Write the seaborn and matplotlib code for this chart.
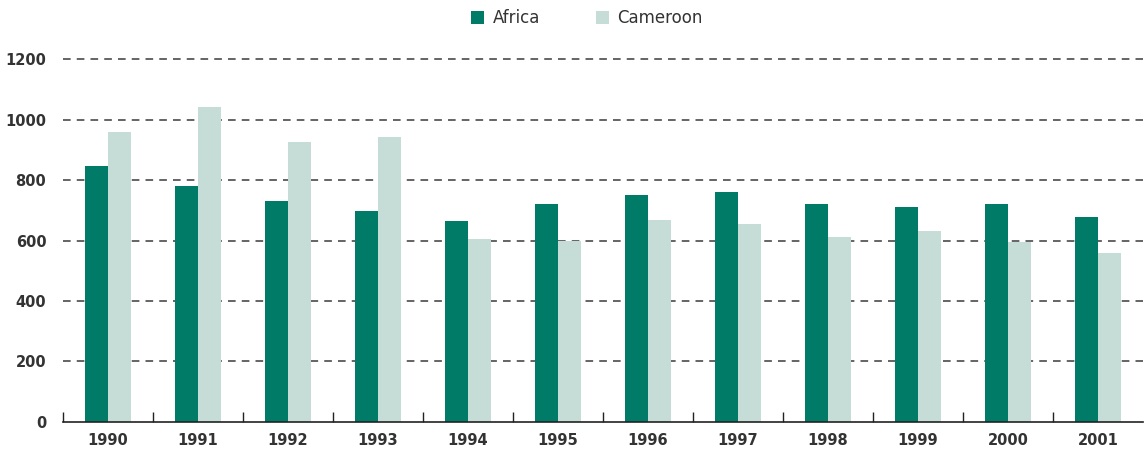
import matplotlib

matplotlib.use("Agg")

import matplotlib.pyplot as plt
import pandas as pd
import seaborn as sns

years = ["1990", "1991", "1992", "1993", "1994", "1995",
         "1996", "1997", "1998", "1999", "2000", "2001"]
africa = [846, 780, 731, 697, 664, 721, 750, 760, 721, 711, 721, 678]
cameroon = [959, 1041, 926, 942, 605, 598, 668, 655, 612, 631, 595, 559]
series_names = ["Africa", "Cameroon"]
colors = ["#007b67", "#c5ddd6"]

df = pd.DataFrame({
    "year": years * 2,
    "value": africa + cameroon,
    "series": [series_names[0]] * len(years) + [series_names[1]] * len(years),
})

sns.set_style("white")
plt.rcParams["font.family"] = ["DejaVu Sans"]

fig = plt.figure(figsize=(11.44, 4.54), dpi=100)
ax = fig.add_axes([0.055, 0.0705, 0.944, 0.7995])

sns.barplot(
    data=df, x="year", y="value", hue="series",
    palette=colors, width=0.51, gap=0, saturation=1,
    linewidth=0, ax=ax, legend=True,
)

ax.set_ylim(0, 1200)
ax.set_xlim(-0.5, len(years) - 0.5)
ax.set_yticks(range(0, 1201, 200))
ax.set_xlabel("")
ax.set_ylabel("")

for y in range(200, 1201, 200):
    ax.axhline(y, color="#3a3a3a", lw=1.1, ls=(0, (5, 4)), zorder=0, clip_on=False)

for s in ["top", "right", "left"]:
    ax.spines[s].set_visible(False)
ax.spines["bottom"].set_color("#222222")
ax.spines["bottom"].set_linewidth(1.2)

# small ticks between year groups
ax.set_xticks([i - 0.5 for i in range(len(years))], minor=True)
ax.tick_params(axis="x", which="minor", bottom=True, direction="in",
               length=7, color="#222222", width=1)
ax.tick_params(axis="x", which="major", length=0, pad=8)
ax.tick_params(axis="y", length=0, pad=12)
for lab in ax.get_xticklabels() + ax.get_yticklabels():
    lab.set_fontweight("bold")
    lab.set_fontsize(10.5)
    lab.set_color("#333333")

handles, labels = ax.get_legend_handles_labels()
ax.legend(
    handles, labels, loc="center", bbox_to_anchor=(0.485, 1.113), ncol=2,
    frameon=False, fontsize=12, handlelength=0.8, handleheight=0.8,
    columnspacing=3.35, handletextpad=0.5, labelcolor="#333333",
)

fig.savefig("out.png", dpi=100)
plt.close(fig)
